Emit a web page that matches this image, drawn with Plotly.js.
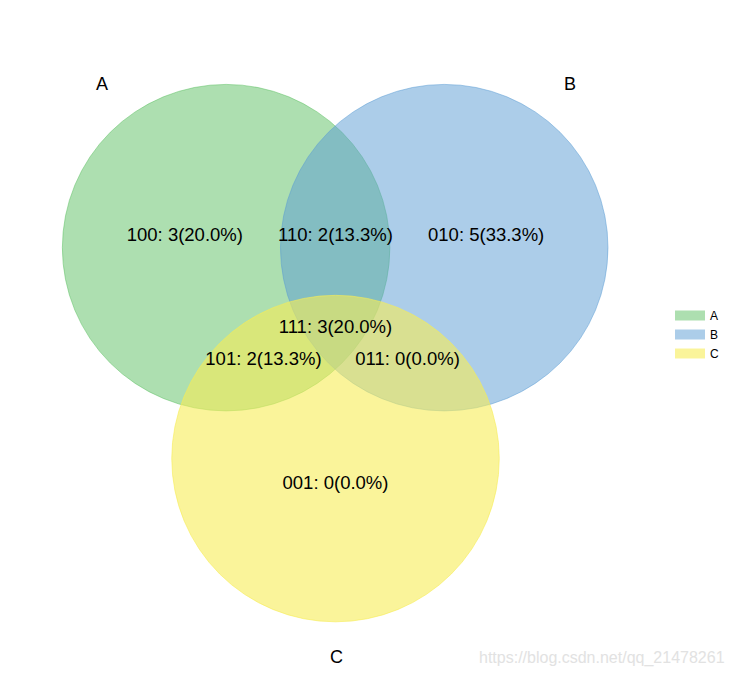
<!DOCTYPE html>
<html>
<head>
<meta charset="utf-8">
<script src="https://cdn.plot.ly/plotly-3.0.1.min.js"></script>
<style>
  html, body { margin: 0; padding: 0; background: #fff; }
  #venn { width: 735px; height: 676px; }
</style>
</head>
<body>
<div id="venn"></div>
<script>
// set names and region counts (region code: A B C membership)
var set_names = ["A", "B", "C"];
var region_codes = ["001", "010", "011", "100", "101", "110", "111"];
var region_counts = [0, 5, 0, 3, 2, 2, 3];

// venn3 layout in axes units (0..1)
var circle_x = [0.333, 0.666, 0.500];
var circle_y = [0.633, 0.633, 0.310];
var circle_r = 0.25;
var region_pos = {
    "001": [0.50, 0.27],
    "010": [0.73, 0.65],
    "011": [0.61, 0.46],
    "100": [0.27, 0.65],
    "101": [0.39, 0.46],
    "110": [0.50, 0.65],
    "111": [0.50, 0.51]
};
var colors = ["rgba(92,192,98,0.5)", "rgba(90,155,212,0.5)", "rgba(246,236,86,0.6)"];

var font_family = "Liberation Sans, Arial, sans-serif";

var total = region_counts.reduce(function(a, b){ return a + b; }, 0);
var labels = region_codes.map(function(code, i){
    var pct = (100 * region_counts[i] / total).toFixed(1);
    return code + ": " + region_counts[i] + "(" + pct + "%)";
});

var shapes = set_names.map(function(name, i){
    return {
        type: "circle",
        xref: "x", yref: "y",
        x0: circle_x[i] - circle_r, x1: circle_x[i] + circle_r,
        y0: circle_y[i] - circle_r, y1: circle_y[i] + circle_r,
        fillcolor: colors[i],
        line: {color: colors[i], width: 1},
        layer: "below"
    };
});

// legend-only traces, thick line gives the box in the legend
var data = set_names.map(function(name, i){
    return {
        x: [null], y: [null],
        type: "scatter",
        mode: "lines",
        line: {color: colors[i], width: 10},
        name: name,
        hoverinfo: "skip"
    };
});

data.push({
    x: region_codes.map(function(c){ return region_pos[c][0]; }),
    y: region_codes.map(function(c){ return region_pos[c][1]; }),
    text: labels,
    type: "scatter",
    mode: "text",
    textposition: "middle center",
    textfont: {family: font_family, size: 18.5, color: "#000"},
    showlegend: false,
    hoverinfo: "skip"
});

var annotations = [
    {x: 0.15, y: 0.87, text: set_names[0], xanchor: "right", yanchor: "bottom", xshift: 3, yshift: -2},
    {x: 0.85, y: 0.87, text: set_names[1], xanchor: "left", yanchor: "bottom", xshift: -2, yshift: -2},
    {x: 0.50, y: 0.02, text: set_names[2], xanchor: "center", yanchor: "top", xshift: 1, yshift: 2}
].map(function(a){
    a.xref = "x"; a.yref = "y"; a.showarrow = false;
    a.borderpad = 0;
    a.font = {family: font_family, size: 18, color: "#000"};
    return a;
});

annotations.push({
    xref: "paper", yref: "paper",
    x: 1.098, y: -0.012,
    xanchor: "right", yanchor: "bottom",
    text: "https://blog.csdn.net/qq_21478261",
    showarrow: false,
    font: {family: font_family, size: 16, color: "#e2e2e2"}
});

var layout = {
    width: 735,
    height: 676,
    margin: {l: 8, r: 72, t: 8, b: 15, pad: 0},
    paper_bgcolor: "#fff",
    plot_bgcolor: "#fff",
    xaxis: {range: [0, 1], visible: false, fixedrange: true},
    yaxis: {range: [0, 1], visible: false, fixedrange: true},
    shapes: shapes,
    annotations: annotations,
    showlegend: true,
    legend: {
        x: 1.0107, y: 0.5,
        xanchor: "left", yanchor: "middle",
        font: {family: font_family, size: 12, color: "#000"},
        bgcolor: "rgba(0,0,0,0)",
        tracegroupgap: 0
    }
};

Plotly.newPlot("venn", data, layout, {displayModeBar: false, staticPlot: true});
</script>
</body>
</html>
